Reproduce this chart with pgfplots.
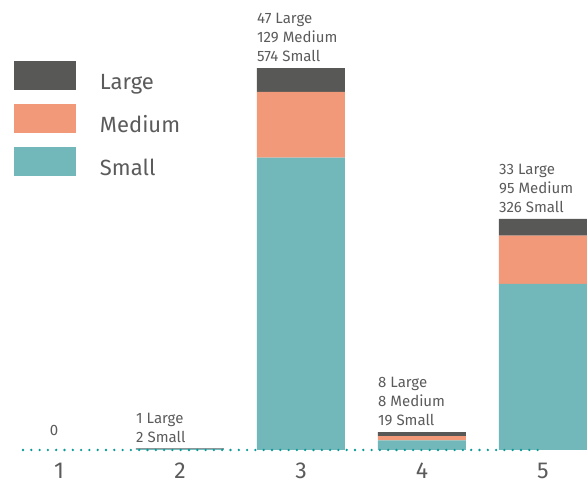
\documentclass[border=0pt]{standalone}
\usepackage{pgfplots}
\pgfplotsset{compat=1.18}
\usepackage{fontspec}
\setmainfont{Fira Sans}
\definecolor{largec}{RGB}{88,88,86}
\definecolor{mediumc}{RGB}{242,153,122}
\definecolor{smallc}{RGB}{114,183,186}
\definecolor{textgrey}{RGB}{91,91,91}
\definecolor{dotc}{RGB}{10,155,150}
\tikzset{lab/.style={anchor=south west, align=left, inner sep=0pt, text=textgrey,
    yshift=6bp, font=\fontsize{15bp}{19bp}\selectfont}}
\begin{document}
\begin{tikzpicture}
\begin{axis}[
  width=588bp, height=482bp, scale only axis,
  xmin=0.5124, xmax=5.372, ymin=-62.83, ymax=883.6,
  ybar stacked, bar width=88bp,
  axis line style={draw=none}, major tick style={draw=none},
  ytick=\empty,
  xtick={1,2,3,4,5}, xticklabels={1,2,3,4,5},
  xticklabel style={anchor=base, inner sep=0pt, yshift=3.5bp,
    font=\fontsize{23bp}{23bp}\selectfont, text=textgrey},
  clip=false,
  reverse legend,
  legend image code/.code={\fill[#1] (0bp,0bp) rectangle (62bp,29bp);},
  legend style={at={(axis description cs:0.02381,0.87344)}, anchor=north west,
    draw=none, fill=none, inner sep=0pt, outer sep=0pt,
    row sep=14bp, column sep=24bp,
    cells={anchor=base west},
    nodes={inner sep=0pt, text depth=0pt, text=textgrey,
      font=\fontsize{22bp}{22bp}\selectfont}},
]
\addplot[forget plot, stack plots=false, sharp plot, no marks, draw=dotc,
  line width=2.6bp, line cap=round, dash pattern=on 0bp off 8.3bp]
  coordinates {(0.7025,0) (5,0)};
\addplot[fill=smallc, draw=none] coordinates {(1,0) (2,2) (3,574) (4,19) (5,326)};
\addlegendentry{Small}
\addplot[fill=mediumc, draw=none] coordinates {(1,0) (2,0) (3,129) (4,8) (5,95)};
\addlegendentry{Medium}
\addplot[fill=largec, draw=none] coordinates {(1,0) (2,1) (3,47) (4,8) (5,33)};
\addlegendentry{Large}
\node[lab, anchor=base, yshift=8bp] at (axis cs:0.9587,0) {0};
\node[lab] at (axis cs:1.6364,3) {1 Large\\2 Small};
\node[lab] at (axis cs:2.6364,750) {47 Large\\129 Medium\\574 Small};
\node[lab] at (axis cs:3.6364,35) {8 Large\\8 Medium\\19 Small};
\node[lab] at (axis cs:4.6364,454) {33 Large\\95 Medium\\326 Small};
\end{axis}
\end{tikzpicture}
\end{document}
